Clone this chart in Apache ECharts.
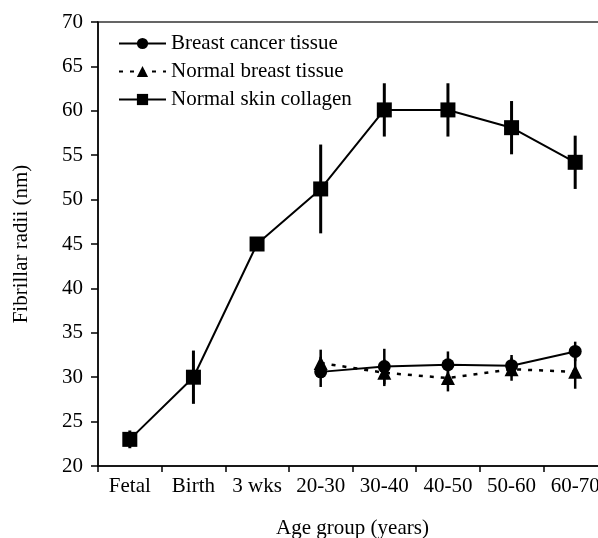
<!DOCTYPE html>
<html>
<head>
<meta charset="utf-8">
<style>
  html, body { margin: 0; padding: 0; background: #fff; }
  #chart { width: 598px; height: 538px; }
</style>
<script src="https://cdn.jsdelivr.net/npm/echarts@6/dist/echarts.min.js"></script>
</head>
<body>
<div id="chart"></div>
<script>
// age groups on the x axis
const ageGroups = ['Fetal', 'Birth', '3 wks', '20-30', '30-40', '40-50', '50-60', '60-70'];

// fibrillar radii (nm), mean and error (+/-)
const skinCollagen = [23, 30, 45, 51.2, 60.1, 60.1, 58.1, 54.2];
const skinCollagenErr = [1, 3, 0.5, 5, 3, 3, 3, 3];

const breastCancer = [null, null, null, 30.6, 31.2, 31.4, 31.3, 32.9];
const breastCancerErr = [null, null, null, 1.7, 2, 1.5, 1.2, 1.1];

const normalBreast = [null, null, null, 31.6, 30.5, 29.9, 30.9, 30.6];
const normalBreastErr = [null, null, null, 1.5, 1.5, 1.5, 1.3, 1.9];

const yTicks = { min: 20, max: 70, step: 5 };

const FONT = '"Liberation Serif", "DejaVu Serif", serif';

function errData(vals, errs) {
    const out = [];
    vals.forEach((v, i) => {
        if (v == null || errs[i] == null) return;
        out.push([i, v - errs[i], v + errs[i]]);
    });
    return out;
}

function errSeries(vals, errs, width) {
    return {
        type: 'custom',
        silent: true,
        z: 1,
        data: errData(vals, errs),
        renderItem: (params, api) => {
            const lo = api.coord([api.value(0), api.value(1)]);
            const hi = api.coord([api.value(0), api.value(2)]);
            return {
                type: 'line',
                shape: { x1: lo[0], y1: lo[1], x2: hi[0], y2: hi[1] },
                style: { stroke: '#000', lineWidth: width }
            };
        }
    };
}

const chart = echarts.init(document.getElementById('chart'), null, { renderer: 'canvas' });

chart.setOption({
    backgroundColor: '#fff',
    animation: false,
    textStyle: { fontFamily: FONT, color: '#000' },
    grid: {
        // plot runs past the right edge: last category is cut off
        left: 98, right: -9, top: 22, bottom: 72,
        outerBoundsMode: 'none',
        containLabel: false,
        show: true, borderColor: '#333', borderWidth: 1.5,
        backgroundColor: 'transparent'
    },
    legend: {
        data: ['Breast cancer tissue', 'Normal breast tissue', 'Normal skin collagen'],
        orient: 'vertical',
        left: 113, top: 28,
        itemWidth: 47, itemHeight: 14, itemGap: 7,
        textStyle: { fontFamily: FONT, fontSize: 21, lineHeight: 21, color: '#000' }
    },
    xAxis: {
        type: 'category',
        data: ageGroups,
        boundaryGap: true,
        name: 'Age group (years)',
        nameLocation: 'middle',
        nameGap: 52,
        nameTextStyle: { fontFamily: FONT, fontSize: 21, color: '#000' },
        axisLine: { lineStyle: { color: '#000', width: 1.5 } },
        axisTick: { show: true, length: 6, alignWithLabel: false, lineStyle: { color: '#000', width: 1.5 } },
        axisLabel: { fontFamily: FONT, fontSize: 21, color: '#000', margin: 10, interval: 0 },
        splitLine: { show: false }
    },
    yAxis: {
        type: 'value',
        min: yTicks.min, max: yTicks.max, interval: yTicks.step,
        name: 'Fibrillar radii (nm)',
        nameLocation: 'middle',
        nameGap: 66,
        nameTextStyle: { fontFamily: FONT, fontSize: 21, color: '#000' },
        axisLine: { show: true, lineStyle: { color: '#000', width: 1.5 } },
        axisTick: { show: true, length: 7, lineStyle: { color: '#000', width: 1.5 } },
        axisLabel: { fontFamily: FONT, fontSize: 21, color: '#000', margin: 15 },
        splitLine: { show: false }
    },
    series: [
        errSeries(skinCollagen, skinCollagenErr, 3),
        errSeries(breastCancer, breastCancerErr, 2.5),
        errSeries(normalBreast, normalBreastErr, 2.5),
        {
            name: 'Normal skin collagen',
            type: 'line',
            data: skinCollagen,
            symbol: 'rect', symbolSize: 15,
            itemStyle: { color: '#000' },
            lineStyle: { color: '#000', width: 2 },
            z: 3
        },
        {
            name: 'Normal breast tissue',
            type: 'line',
            data: normalBreast,
            symbol: 'triangle', symbolSize: 14,
            itemStyle: { color: '#000' },
            lineStyle: { color: '#000', width: 2.5, type: [4, 7] },
            z: 3
        },
        {
            name: 'Breast cancer tissue',
            type: 'line',
            data: breastCancer,
            symbol: 'circle', symbolSize: 13,
            itemStyle: { color: '#000' },
            lineStyle: { color: '#000', width: 2 },
            z: 4
        }
    ]
});
</script>
</body>
</html>
